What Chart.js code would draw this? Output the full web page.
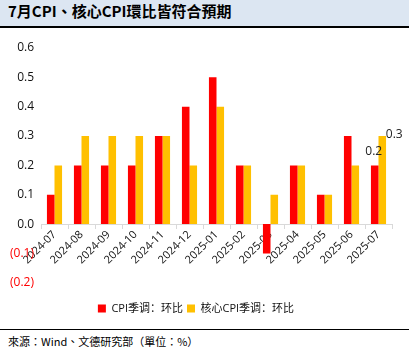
<!DOCTYPE html>
<html>
<head>
<meta charset="utf-8">
<script src="https://cdn.jsdelivr.net/npm/chart.js@4"></script>
<style>
  html, body { margin: 0; padding: 0; background: #fff; }
  body { width: 409px; height: 352px; overflow: hidden; position: relative; }
  #title {
    height: 26px; line-height: 27px; background: #dce6f2;
    border-bottom: 2px solid #000; padding-left: 8px;
    font: bold 15px "Noto Sans CJK TC", sans-serif; color: #000;
  }
  #wrap { position: absolute; left: 0; top: 28px; width: 409px; height: 300px; }
  #footer {
    position: absolute; left: 0; top: 329px; width: 409px; height: 23px;
    border-top: 1px solid #000; padding-left: 8px; box-sizing: border-box;
    font: 11px "Noto Sans CJK TC", sans-serif; line-height: 22px; color: #000;
  }
</style>
</head>
<body>
<div id="title">7月CPI、核心CPI環比皆符合預期</div>
<div id="wrap"><canvas id="chart"></canvas></div>
<div id="footer">來源：Wind、文德研究部（單位：%）</div>
<script>
// ── Data ─────────────────────────────────────────────────
const months = ["2024-07", "2024-08", "2024-09", "2024-10", "2024-11", "2024-12",
  "2025-01", "2025-02", "2025-03", "2025-04", "2025-05", "2025-06", "2025-07"];
const cpiMoM  = [0.1, 0.2, 0.2, 0.2, 0.3, 0.4, 0.5, 0.2, -0.1, 0.2, 0.1, 0.3, 0.2];
const coreMoM = [0.2, 0.3, 0.3, 0.3, 0.3, 0.2, 0.4, 0.2, 0.1, 0.2, 0.1, 0.2, 0.3];

const fontLat = "'Open Sans', 'Noto Sans', sans-serif";
const fontCjk = "'Open Sans', 'Noto Sans CJK SC', sans-serif";

// labels on the last pair of bars
const lastLabels = {
  id: "lastLabels",
  afterDatasetsDraw(chart) {
    const ctx = chart.ctx;
    const last = months.length - 1;
    ctx.save();
    ctx.font = "12px " + fontLat;
    ctx.fillStyle = "#222";
    ctx.textAlign = "center";
    ctx.textBaseline = "middle";
    const r = chart.getDatasetMeta(0).data[last];
    const y = chart.getDatasetMeta(1).data[last];
    ctx.fillText(cpiMoM[last].toFixed(1), r.x - 1, r.y - 14);
    ctx.fillText(coreMoM[last].toFixed(1), y.x + 12, y.y - 1);
    ctx.restore();
  }
};

new Chart(document.getElementById("chart"), {
  type: "bar",
  data: {
    labels: months,
    datasets: [
      {
        label: "CPI季调：环比",
        data: cpiMoM,
        backgroundColor: "#ff0000",
        categoryPercentage: 0.56,
        barPercentage: 1
      },
      {
        label: "核心CPI季调：环比",
        data: coreMoM,
        backgroundColor: "#ffc000",
        categoryPercentage: 0.56,
        barPercentage: 1
      }
    ]
  },
  options: {
    responsive: true,
    maintainAspectRatio: false,
    animation: false,
    layout: { padding: { top: 20, right: 17, left: 0, bottom: 4 } },
    plugins: {
      tooltip: { enabled: false },
      legend: {
        position: "bottom",
        // empty title used as spacer between plot and legend
        title: { display: true, text: "", font: { size: 1 }, padding: { top: 15, bottom: 0 } },
        labels: {
          boxWidth: 8,
          boxHeight: 8,
          padding: 4,
          color: "#111",
          font: { family: fontCjk, size: 11 }
        }
      }
    },
    scales: {
      x: {
        position: { y: 0 },
        offset: true,
        grid: {
          offset: true,
          drawOnChartArea: false,
          drawTicks: true,
          tickLength: 4,
          color: "#d9d9d9"
        },
        border: { color: "#d9d9d9", width: 1 },
        ticks: {
          autoSkip: false,
          maxRotation: 45,
          minRotation: 45,
          padding: 0,
          color: "#111",
          font: { family: fontLat, size: 11 }
        }
      },
      y: {
        min: -0.2,
        max: 0.6,
        afterFit(scale) { scale.width = 41; },
        grid: { display: false, drawTicks: false },
        border: { display: false },
        ticks: {
          stepSize: 0.1,
          padding: 7,
          font: { family: fontLat, size: 12 },
          color: (c) => c.tick && c.tick.value < 0 ? "#ff0000" : "#111",
          callback: (v) => {
            const s = Math.abs(v).toFixed(1);
            return v < -1e-9 ? "(" + s + ")" : s;
          }
        }
      }
    }
  },
  plugins: [lastLabels]
});
</script>
</body>
</html>
